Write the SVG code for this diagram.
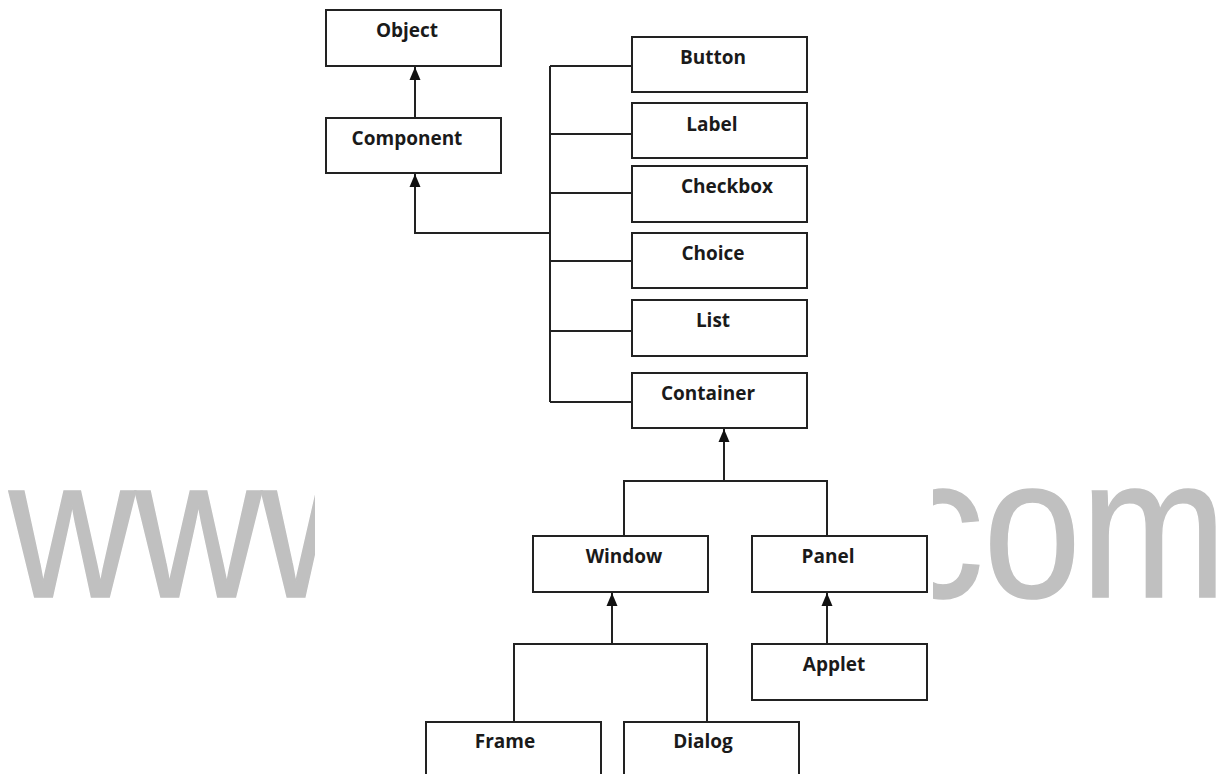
<svg xmlns="http://www.w3.org/2000/svg" width="1219" height="774" viewBox="0 0 1219 774">
<style>
.box{fill:#fff;stroke:#222;stroke-width:2}
.lbl{font-family:"Open Sans","Liberation Sans",sans-serif;font-weight:bold;font-size:19px;fill:#1a1a1a;text-anchor:middle}
.ln{fill:none;stroke:#222;stroke-width:2}
.wm{font-family:"Liberation Sans",Arial,sans-serif;font-size:201px;fill:#c0c0c0;stroke:#c0c0c0;stroke-width:1.5}
</style>
<defs>
<marker id="ah" markerWidth="13" markerHeight="12" refX="13" refY="6" orient="auto" markerUnits="userSpaceOnUse" viewBox="0 0 13 12">
<path d="M0,0.5 L13,6 L0,11.5 Z" fill="#111"/>
</marker>
<clipPath id="wmclip"><rect x="0" y="0" width="315" height="774"/><rect x="933" y="0" width="286" height="774"/></clipPath>
</defs>
<rect width="1219" height="774" fill="#fff"/>
<g id="watermark" clip-path="url(#wmclip)">
<text class="wm" transform="translate(9,597) scale(0.87,1)">www</text>
<text class="wm" transform="translate(896,597) scale(0.87,1)">com</text>
</g>
<g id="connectors">
<line class="ln" x1="415" y1="118" x2="415" y2="67" marker-end="url(#ah)"/>
<polyline class="ln" points="550,233 415,233 415,174" marker-end="url(#ah)"/>
<line class="ln" x1="550" y1="66" x2="550" y2="402"/>
<line class="ln" x1="550" y1="66" x2="632" y2="66"/>
<line class="ln" x1="550" y1="134" x2="632" y2="134"/>
<line class="ln" x1="550" y1="193" x2="632" y2="193"/>
<line class="ln" x1="550" y1="261" x2="632" y2="261"/>
<line class="ln" x1="550" y1="331" x2="632" y2="331"/>
<line class="ln" x1="550" y1="402" x2="632" y2="402"/>
<polyline class="ln" points="624,536 624,481 827,481 827,536"/>
<line class="ln" x1="724" y1="481" x2="724" y2="429" marker-end="url(#ah)"/>
<polyline class="ln" points="514,722 514,644 707,644 707,722"/>
<line class="ln" x1="612" y1="644" x2="612" y2="593" marker-end="url(#ah)"/>
<line class="ln" x1="827" y1="644" x2="827" y2="593" marker-end="url(#ah)"/>
</g>
<g id="object"><rect class="box" x="326" y="10" width="175" height="56"/><text class="lbl" x="407" y="37">Object</text></g>
<g id="component"><rect class="box" x="326" y="118" width="175" height="55"/><text class="lbl" x="407" y="145">Component</text></g>
<g id="button"><rect class="box" x="632" y="37" width="175" height="55"/><text class="lbl" x="713" y="64">Button</text></g>
<g id="label"><rect class="box" x="632" y="103" width="175" height="55"/><text class="lbl" x="712" y="131">Label</text></g>
<g id="checkbox"><rect class="box" x="632" y="166" width="175" height="56"/><text class="lbl" x="727" y="193">Checkbox</text></g>
<g id="choice"><rect class="box" x="632" y="233" width="175" height="55"/><text class="lbl" x="713" y="260">Choice</text></g>
<g id="list"><rect class="box" x="632" y="300" width="175" height="56"/><text class="lbl" x="713" y="327">List</text></g>
<g id="container"><rect class="box" x="632" y="373" width="175" height="55"/><text class="lbl" x="708" y="400">Container</text></g>
<g id="window"><rect class="box" x="533" y="536" width="175" height="56"/><text class="lbl" x="624" y="563">Window</text></g>
<g id="panel"><rect class="box" x="752" y="536" width="175" height="56"/><text class="lbl" x="828" y="563">Panel</text></g>
<g id="applet"><rect class="box" x="752" y="644" width="175" height="56"/><text class="lbl" x="834" y="671">Applet</text></g>
<g id="frame"><rect class="box" x="426" y="722" width="175" height="60"/><text class="lbl" x="505" y="748">Frame</text></g>
<g id="dialog"><rect class="box" x="624" y="722" width="175" height="60"/><text class="lbl" x="703" y="748">Dialog</text></g>
</svg>
